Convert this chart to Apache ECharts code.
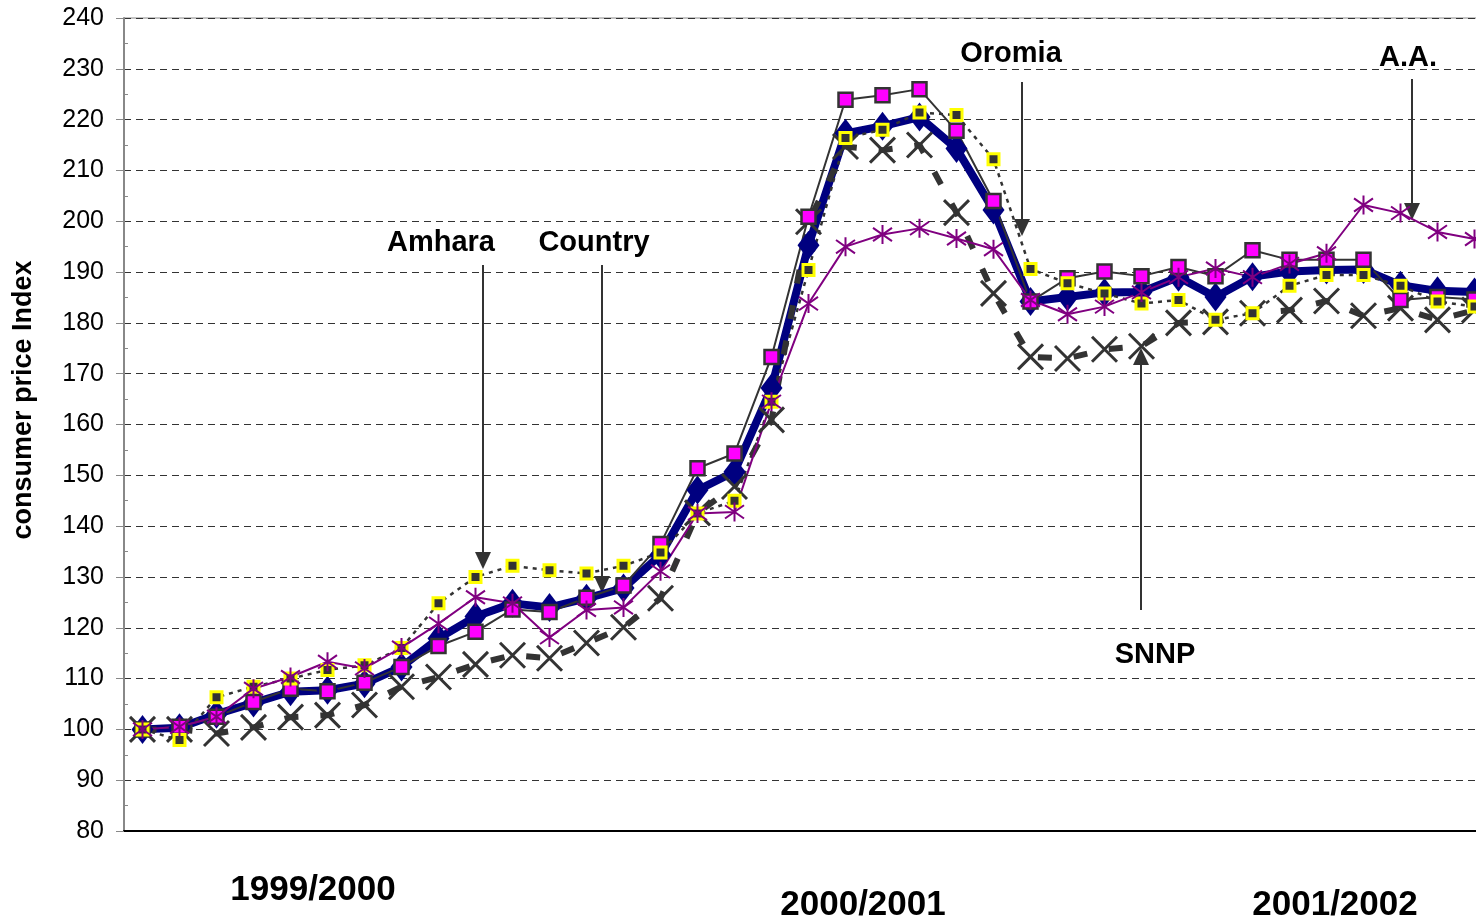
<!DOCTYPE html>
<html>
<head>
<meta charset="utf-8">
<title>consumer price Index</title>
<script src="https://cdn.jsdelivr.net/npm/echarts@6/dist/echarts.min.js"></script>
<style>
  html, body { margin: 0; padding: 0; background: #fff; overflow: hidden; }
  /* the plot runs past the right edge of the picture, as in the original */
  #chart { width: 1493px; height: 924px; }
</style>
</head>
<body>
<div id="chart"></div>
<script>
// monthly observations, July 1999 .. July 2002
var months = [];
var monthNames = ['Jul','Aug','Sep','Oct','Nov','Dec','Jan','Feb','Mar','Apr','May','Jun'];
for (var k = 0; k < 37; k++) {
    months.push(monthNames[k % 12] + ' ' + (1999 + Math.floor((k + 6) / 12)));
}

var country = [100, 100.3, 103, 105.2, 107.4, 107.7, 109, 112.3, 117.9, 122.2, 124.8, 124, 125.8,
    127.8, 134.3, 147.1, 150.7, 167.2, 195.3, 217.3, 218.7, 220.5, 214.3, 202.2, 184.2, 185.1,
    186, 186.1, 189, 185.1, 189.1, 190.1, 190.4, 190.5, 187.4, 186.3, 186.1];

var oromia = [100, 100.5, 102.5, 105.4, 108, 107.5, 109.2, 112.3, 116.4, 119.2, 123.6, 123.1, 125.9,
    128.3, 136.5, 151.4, 154.3, 173.3, 200.9, 223.9, 224.8, 226, 217.8, 204, 184.2, 188.8,
    190.1, 189.2, 191, 189.2, 194.3, 192.4, 192.4, 192.4, 184.5, 185.1, 184.6];

var amhara = [100, 97.9, 106.3, 108.4, 110, 111.7, 112.6, 116, 124.8, 130, 132.2, 131.3, 130.7,
    132.2, 134.8, 142.5, 145, 164.5, 190.4, 216.4, 218, 221.4, 220.9, 212.2, 190.6, 187.8,
    185.8, 183.8, 184.5, 180.6, 181.9, 187.3, 189.4, 189.4, 187.3, 184.2, 183.2];

var addisAbaba = [100, 100.5, 102.5, 108, 110.3, 113.3, 112, 116.1, 120.8, 126, 124.8, 118.1, 123.5,
    124, 131.1, 142.5, 142.8, 164.5, 183.8, 195, 197.4, 198.6, 196.6, 194.5, 184.5, 181.7,
    183.2, 186, 189, 190.7, 189, 191.6, 193.7, 203.2, 201.6, 197.9, 196.5];

var snnp = [100, 100, 99.2, 100.4, 102.4, 102.8, 104.8, 108.4, 110.3, 112.8, 114.6, 114, 117,
    120.1, 125.8, 142.6, 147.8, 160.9, 199.9, 214.7, 214, 215, 201.7, 185.8, 173.3, 173,
    174.8, 175.4, 180, 180.2, 181.9, 182.5, 184.3, 181.4, 182.9, 180.6, 182.5];

var yearLabels = ['1999/2000', '2000/2001', '2001/2002'];

var FONT = '"Liberation Sans", Arial, sans-serif';

var chart = echarts.init(document.getElementById('chart'));

/* arrow with a filled head, pointing down (dir 1) or up (dir -1) */
function arrow(x, yStart, yTip, dir) {
    return {
        type: 'group',
        children: [
            {
                type: 'line',
                shape: { x1: x, y1: yStart, x2: x, y2: yTip - dir * 10 },
                style: { stroke: '#333', lineWidth: 2 }
            },
            {
                type: 'polygon',
                shape: { points: [[x - 8, yTip - dir * 17], [x + 8, yTip - dir * 17], [x, yTip]] },
                style: { fill: '#333' }
            }
        ]
    };
}

function label(text, x, y, size, rotation) {
    return {
        type: 'text',
        x: x,
        y: y,
        rotation: rotation || 0,
        style: {
            text: text,
            fill: '#000',
            fontFamily: FONT,
            fontWeight: 'bold',
            fontSize: size,
            align: 'center',
            verticalAlign: 'middle'
        }
    };
}

var option = {
    animation: false,
    backgroundColor: '#fff',
    grid: {
        left: 124,
        top: 18,
        right: 0,
        bottom: 93,
        show: true,
        borderColor: '#888',
        borderWidth: 1
    },
    xAxis: {
        type: 'category',
        data: months,
        boundaryGap: true,
        axisLine: { lineStyle: { color: '#000', width: 2 } },
        axisTick: { inside: true, length: 8, interval: 0, lineStyle: { color: '#000' } },
        axisLabel: { show: false },
        splitLine: { show: false }
    },
    yAxis: {
        type: 'value',
        min: 80,
        max: 240,
        interval: 10,
        axisLine: { show: true, lineStyle: { color: '#888', width: 2 } },
        axisTick: { show: true, length: 8, lineStyle: { color: '#888' } },
        minorTick: { show: true, splitNumber: 2, length: -4, lineStyle: { color: '#888' } },
        axisLabel: { fontFamily: FONT, fontSize: 25, color: '#000', margin: 20 },
        splitLine: { lineStyle: { color: '#333', width: 1, type: [7, 5] } }
    },
    series: [
        {
            name: 'Country',
            type: 'line',
            data: country,
            symbol: 'diamond',
            symbolSize: [22, 29],
            showAllSymbol: true,
            lineStyle: { color: '#000080', width: 8 },
            itemStyle: { color: '#000080', borderWidth: 0 }
        },
        {
            name: 'SNNP',
            type: 'line',
            data: snnp,
            symbol: 'path://M-10,-10L10,10M-10,10L10,-10',
            symbolSize: 25,
            showAllSymbol: true,
            lineStyle: { color: '#333', width: 6, type: [14, 22] },
            itemStyle: { color: 'none', borderColor: '#333', borderWidth: 3 }
        },
        {
            name: 'Oromia',
            type: 'line',
            data: oromia,
            symbol: 'rect',
            symbolSize: 14,
            showAllSymbol: true,
            lineStyle: { color: '#333', width: 2 },
            itemStyle: { color: '#ff00ff', borderColor: '#333', borderWidth: 2.5 }
        },
        {
            name: 'Amhara',
            type: 'line',
            data: amhara,
            symbol: 'rect',
            symbolSize: 11,
            showAllSymbol: true,
            lineStyle: { color: '#333', width: 2.5, type: [4, 5] },
            itemStyle: { color: '#333', borderColor: '#ffff00', borderWidth: 3 }
        },
        {
            name: 'A.A.',
            type: 'line',
            data: addisAbaba,
            symbol: 'path://M0,-10L0,10M-8,-7L8,7M-8,7L8,-7',
            symbolSize: 19,
            showAllSymbol: true,
            lineStyle: { color: '#800080', width: 2 },
            itemStyle: { color: 'none', borderColor: '#800080', borderWidth: 2 }
        }
    ],
    graphic: [
        label('consumer price Index', 24, 400, 27, Math.PI / 2),
        label('Amhara', 441, 243, 29),
        label('Country', 594, 243, 29),
        label('Oromia', 1011, 54, 29),
        label('A.A.', 1408, 58, 29),
        label('SNNP', 1155, 655, 29),
        arrow(483, 265, 569, 1),
        arrow(602, 265, 593, 1),
        arrow(1022, 82, 236, 1),
        arrow(1412, 79, 220, 1),
        arrow(1141, 610, 348, -1),
        label(yearLabels[0], 313, 890, 35),
        label(yearLabels[1], 863, 905, 35),
        label(yearLabels[2], 1335, 905, 35)
    ]
};

chart.setOption(option);
</script>
</body>
</html>
